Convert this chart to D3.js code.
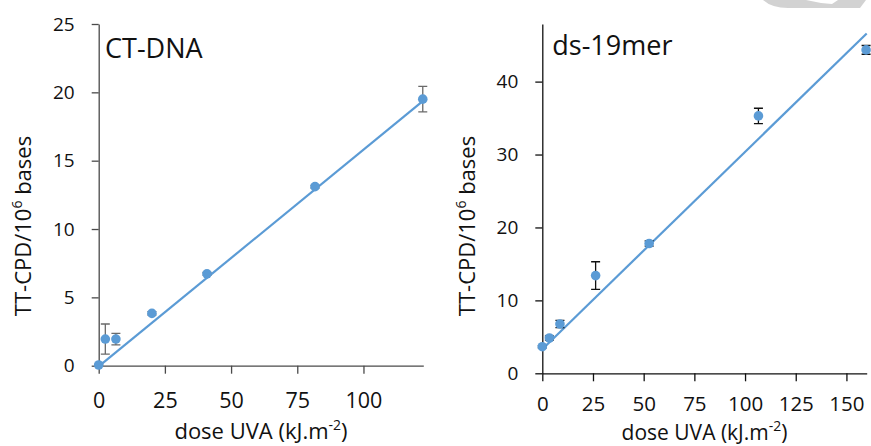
<!DOCTYPE html>
<html>
<head>
<meta charset="utf-8">
<script src="https://cdn.jsdelivr.net/npm/d3@7"></script>
<style>
  body { margin: 0; background: #fff; }
  svg { display: block; font-family: "Open Sans", Lato, sans-serif; }
</style>
</head>
<body>
<div id="viz"></div>
<script>
// --- Data ---
// CT-DNA panel
const ctDose = [0, 2.5, 6.5, 20.1, 40.9, 81.7, 122.4];
const ctCpd = [0.05, 1.95, 1.95, 3.83, 6.72, 13.1, 19.5];
const ctErr = [0.05, 1.1, 0.42, 0.12, 0.1, 0.1, 0.93];
const ctTrend = [[0, -0.05], [122.4, 19.35]];
const ctXTicks = [0, 25, 50, 75, 100];
const ctYTicks = [0, 5, 10, 15, 20, 25];

// ds-19mer panel
const dsDose = [0, 3.5, 8.7, 26.3, 52.7, 106.6, 159.7];
const dsCpd = [3.65, 4.84, 6.76, 13.4, 17.8, 35.3, 44.35];
const dsErr = [0.15, 0.3, 0.5, 1.9, 0.35, 1.05, 0.6];
const dsTrend = [[0, 3.3], [160, 46.6]];
const dsXTicks = [0, 25, 50, 75, 100, 125, 150];
const dsYTicks = [0, 10, 20, 30, 40];

const width = 871, height = 446;
const blue = "#5b9bd5";
const font = "'Open Sans', Lato, sans-serif";

const svg = d3.select("#viz").append("svg")
  .attr("width", width)
  .attr("height", height);

// light grey shape peeking in at the top right
svg.append("path")
  .attr("d", "M763,0 Q772,8 788,8 L860,8 L866,0 Z")
  .attr("fill", "#d2d2d2");
svg.append("path")
  .attr("d", "M806,0 Q818,3 832,4 L838,0 Z")
  .attr("fill", "#fff");

function panel(opt) {
  const x = d3.scaleLinear().domain(opt.xDomain).range(opt.xRange);
  const y = d3.scaleLinear().domain(opt.yDomain).range(opt.yRange);
  const g = svg.append("g");

  // y axis
  const ya = g.append("g")
    .attr("transform", `translate(${opt.xRange[0]},0)`)
    .call(d3.axisLeft(y).tickValues(opt.yTicks).tickSize(7).tickSizeOuter(0).tickPadding(17));
  // x axis
  const xa = g.append("g")
    .attr("transform", `translate(0,${opt.yRange[0]})`)
    .call(d3.axisBottom(x).tickValues(opt.xTicks).tickSize(8).tickSizeOuter(0).tickPadding(opt.xPad));

  [ya, xa].forEach(a => {
    a.select(".domain").attr("stroke", opt.axisColor).attr("stroke-width", 1.3);
    a.selectAll(".tick line").attr("stroke", opt.axisColor).attr("stroke-width", 1.3);
    a.selectAll("text").attr("fill", "#111").attr("font-family", font);
  });
  ya.selectAll("text").attr("font-size", 19);
  xa.selectAll("text").attr("font-size", opt.xTickSize);

  // trend line
  g.append("path")
    .datum(opt.trend)
    .attr("fill", "none")
    .attr("stroke", blue)
    .attr("stroke-width", 2.2)
    .attr("d", d3.line().x(d => x(d[0])).y(d => y(d[1])));

  const pts = opt.dose.map((d, i) => ({ x: d, y: opt.cpd[i], e: opt.err[i] }));

  // error bars
  const eb = g.append("g")
    .attr("stroke", opt.errColor)
    .attr("stroke-width", 1.3)
    .attr("fill", "none");
  eb.selectAll("path")
    .data(pts)
    .join("path")
    .attr("d", d => {
      const cx = x(d.x), y0 = y(d.y - d.e), y1 = y(d.y + d.e);
      return `M${cx - 4.5},${y1}H${cx + 4.5}M${cx},${y1}V${y0}M${cx - 4.5},${y0}H${cx + 4.5}`;
    });

  // points
  g.append("g")
    .attr("fill", blue)
    .selectAll("circle")
    .data(pts)
    .join("circle")
    .attr("r", 4.8)
    .attr("cx", d => x(d.x))
    .attr("cy", d => y(d.y));

  // panel title
  g.append("text")
    .attr("x", opt.title[1])
    .attr("y", opt.title[2])
    .attr("font-size", 27)
    .attr("fill", "#111")
    .text(opt.title[0]);

  // x axis title
  const xt = g.append("text")
    .attr("x", (opt.xRange[0] + opt.xRange[1]) / 2)
    .attr("y", opt.xTitleY)
    .attr("text-anchor", "middle")
    .attr("font-size", opt.xTitleSize)
    .attr("fill", "#111");
  xt.append("tspan").text("dose UVA (kJ.m");
  xt.append("tspan").attr("font-size", 14).attr("baseline-shift", "super").text("-2");
  xt.append("tspan").text(")");

  // y axis title
  const yt = g.append("text")
    .attr("transform", `translate(${opt.yTitleX},226) rotate(-90)`)
    .attr("text-anchor", "middle")
    .attr("font-size", 22)
    .attr("fill", "#111");
  yt.append("tspan").text("TT-CPD/10");
  yt.append("tspan").attr("font-size", 14).attr("baseline-shift", "super").text("6");
  yt.append("tspan").text(" bases");
}

panel({
  dose: ctDose, cpd: ctCpd, err: ctErr, trend: ctTrend,
  xDomain: [0, 122.6], yDomain: [0, 25],
  xRange: [98.7, 423.3], yRange: [365.7, 24],
  xTicks: ctXTicks, yTicks: ctYTicks,
  axisColor: "#4a4a4a", errColor: "#6a6a6a",
  title: ["CT-DNA", 105, 58.3],
  xPad: 19, xTickSize: 21.5,
  xTitleY: 439, xTitleSize: 22, yTitleX: 31
});

panel({
  dose: dsDose, cpd: dsCpd, err: dsErr, trend: dsTrend,
  xDomain: [0, 160], yDomain: [0, 47.9],
  xRange: [542.3, 866.7], yRange: [373.3, 24],
  xTicks: dsXTicks, yTicks: dsYTicks,
  axisColor: "#111", errColor: "#111",
  title: ["ds-19mer", 552.3, 55],
  xPad: 15, xTickSize: 20.5,
  xTitleY: 440, xTitleSize: 21, yTitleX: 474.5
});
</script>
</body>
</html>
